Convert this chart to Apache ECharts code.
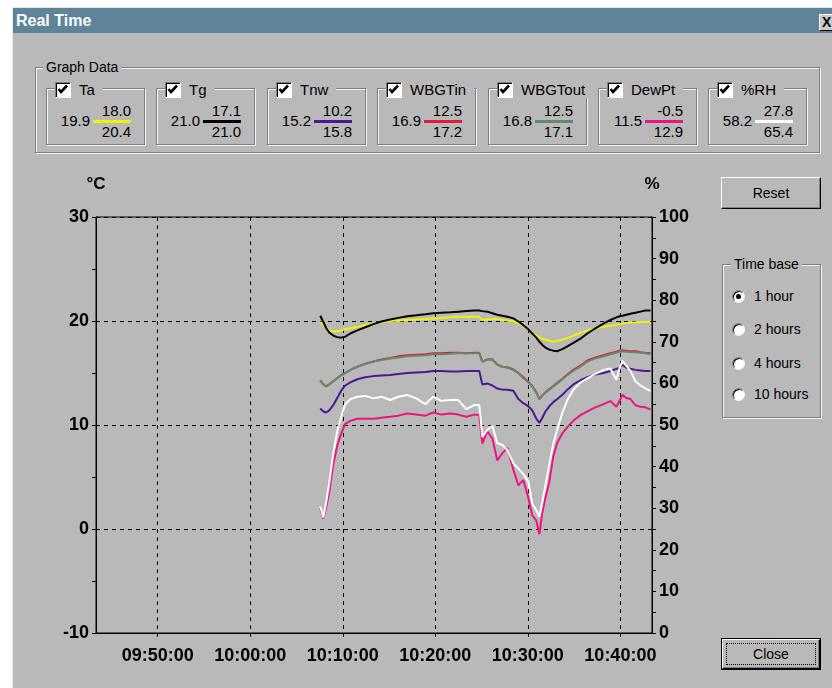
<!DOCTYPE html>
<html><head><meta charset="utf-8">
<script src="https://cdn.jsdelivr.net/npm/echarts@6/dist/echarts.min.js"></script>
<style>
html,body{margin:0;padding:0;width:832px;height:688px;overflow:hidden;background:#fff;font-family:"Liberation Sans",Arial,sans-serif;color:#000;}
.abs{position:absolute;}
#win{left:12px;top:7px;width:830px;height:690px;background:#b9b9b9;border-left:1px solid #e6e6e6;border-top:1px solid #e6e6e6;box-sizing:border-box;}
#title{left:13px;top:8px;width:819px;height:25px;background:#5f8499;color:#fff;font-weight:bold;font-size:16px;line-height:25px;padding-left:3px;box-sizing:border-box;}
#xbtn{left:819px;top:14px;width:18px;height:17px;background:#c8c8c8;border:1px solid;border-color:#fff #000 #000 #fff;box-sizing:border-box;font-weight:bold;font-size:14px;line-height:15px;padding-left:2px;}
.grp{position:absolute;border:1px solid #808080;box-shadow:1px 1px 0 #f2f2f2, inset 1px 1px 0 #f2f2f2;box-sizing:border-box;}
.lg{position:absolute;background:#b9b9b9;font-size:14px;line-height:16px;height:16px;white-space:nowrap;}
.cb{display:inline-block;vertical-align:top;width:16px;height:16px;box-sizing:border-box;background:#fff;border:1px solid;border-color:#808080 #fff #fff #808080;box-shadow:inset 1px 1px 0 #000;}
.cb svg{display:block;}
.txt{position:absolute;font-size:15px;line-height:18px;height:18px;white-space:nowrap;}
.btn{position:absolute;box-sizing:border-box;background:#b9b9b9;border:1px solid;border-color:#fff #000 #000 #fff;box-shadow:inset -1px -1px 0 #808080;text-align:center;font-size:14px;}
.rb{position:absolute;width:13px;height:13px;box-sizing:border-box;border-radius:50%;background:#fff;border:1px solid;border-color:#808080 #f4f4f4 #f4f4f4 #808080;box-shadow:inset 1px 1px 0 #000;}
.rb.on::after{content:"";position:absolute;left:3px;top:3px;width:5px;height:5px;border-radius:50%;background:#000;}
#chart{position:absolute;left:0;top:160px;width:715px;height:528px;}
</style>
</head><body>
<div id="win" class="abs"></div>
<div id="title" class="abs">Real Time</div>
<div id="xbtn" class="abs">X</div>
<div class="grp" style="left:35px;top:67px;width:785px;height:86px;"></div>
<div class="lg" style="left:43px;top:59px;padding:0 3px;">Graph Data</div>
<div id="boxes"></div>

<div class="btn" style="left:721px;top:177px;width:100px;height:32px;line-height:30px;">Reset</div>
<div class="grp" style="left:722px;top:264px;width:99px;height:154px;"></div>
<div class="lg" style="left:731px;top:256px;padding:0 3px;">Time base</div>
<div class="rb on" style="left:732px;top:290px;"></div><div class="txt" style="left:754px;top:287px;font-size:14px;">1 hour</div>
<div class="rb" style="left:732px;top:323px;"></div><div class="txt" style="left:754px;top:320px;font-size:14px;">2 hours</div>
<div class="rb" style="left:732px;top:357px;"></div><div class="txt" style="left:754px;top:354px;font-size:14px;">4 hours</div>
<div class="rb" style="left:732px;top:388px;"></div><div class="txt" style="left:754px;top:385px;font-size:14px;">10 hours</div>
<div class="abs" style="left:721px;top:638px;width:100px;height:32px;box-sizing:border-box;border:1px solid #000;background:#b9b9b9;">
  <div style="position:absolute;left:0;top:0;right:0;bottom:0;border:1px solid;border-color:#fff #000 #000 #fff;box-shadow:inset -1px -1px 0 #808080;"></div>
  <div style="position:absolute;left:4px;top:4px;right:4px;bottom:4px;border:1px dotted #000;text-align:center;font-size:14px;line-height:20px;">Close</div>
</div>
<div id="chart"></div>
<script>
// ---- Graph Data panel ----
const sensorNames = ['Ta', 'Tg', 'Tnw', 'WBGTin', 'WBGTout', 'DewPt', '%RH'];
const currentVals = ['19.9', '21.0', '15.2', '16.9', '16.8', '11.5', '58.2'];
const minVals = ['18.0', '17.1', '10.2', '12.5', '12.5', '-0.5', '27.8'];
const maxVals = ['20.4', '21.0', '15.8', '17.2', '17.1', '12.9', '65.4'];
const seriesColors = ['#f2f200', '#000000', '#4a1896', '#e8183c', '#5e8c6c', '#ee1480', '#ffffff'];

// ---- Time base (x) ----
const times = [
 '10:07:34','10:07:54','10:08:13','10:08:32','10:08:58','10:09:24','10:09:50','10:10:16','10:10:49','10:11:34',
 '10:12:26','10:13:18','10:14:10','10:15:08','10:16:00','10:16:58','10:17:57','10:18:55','10:19:47','10:20:39',
 '10:21:37','10:22:29','10:23:21','10:24:13','10:24:45','10:25:05','10:25:37','10:26:10','10:26:42','10:27:15',
 '10:27:47','10:28:26','10:28:58','10:29:31','10:30:03','10:30:29','10:30:55','10:31:15','10:31:34','10:31:54',
 '10:32:19','10:32:45','10:33:11','10:33:44','10:34:16','10:34:55','10:35:41','10:36:26','10:37:18','10:38:10',
 '10:38:55','10:39:34','10:39:54','10:40:13','10:40:39','10:41:05','10:41:37','10:42:10','10:42:42','10:43:15'];
const xTickLabels = ['09:50:00', '10:00:00', '10:10:00', '10:20:00', '10:30:00', '10:40:00'];
const xStart = '09:43:20';
const xEnd = '10:43:25';

// ---- Series values ----
const Ta = [
 19.9,19.6,19.3,19.1,19.0,19.0,19.1,19.2,19.3,19.45,
 19.6,19.75,19.9,20.0,20.05,20.1,20.15,20.2,20.25,20.3,
 20.35,20.4,20.4,20.4,20.4,20.1,20.15,20.2,20.2,20.1,
 20.05,20.0,19.8,19.5,19.2,18.9,18.6,18.4,18.3,18.2,
 18.1,18.0,18.1,18.2,18.35,18.6,18.85,19.1,19.3,19.45,
 19.55,19.65,19.7,19.75,19.8,19.85,19.85,19.9,19.9,19.9];
const Tg = [
 20.5,19.9,19.3,18.9,18.6,18.45,18.4,18.5,18.8,19.1,
 19.4,19.7,19.95,20.15,20.3,20.45,20.55,20.65,20.75,20.8,
 20.85,20.9,20.95,21.0,21.0,20.95,20.9,20.75,20.6,20.5,
 20.4,20.25,19.95,19.6,19.2,18.8,18.4,18.0,17.7,17.45,
 17.25,17.15,17.1,17.3,17.55,17.9,18.3,18.8,19.3,19.75,
 20.1,20.35,20.45,20.5,20.6,20.7,20.8,20.9,21.0,21.0];
const Tnw = [
 11.6,11.3,11.2,11.4,11.9,12.6,13.3,13.8,14.1,14.4,
 14.6,14.7,14.75,14.8,14.9,15.0,15.05,15.1,15.2,15.2,
 15.15,15.15,15.2,15.2,15.2,13.9,14.0,13.8,13.5,13.4,
 13.4,13.3,12.5,12.1,11.8,11.4,10.6,10.2,10.7,11.3,
 11.8,12.2,12.5,12.9,13.4,13.9,14.3,14.6,14.85,15.0,
 15.2,15.4,15.45,15.8,15.5,15.4,15.3,15.25,15.2,15.2];
const WBGTin = [
 14.3,13.9,13.7,13.9,14.2,14.5,14.8,15.0,15.3,15.6,
 15.9,16.1,16.3,16.45,16.6,16.7,16.75,16.8,16.9,16.9,
 16.95,16.95,16.9,16.95,16.95,16.1,16.3,16.3,15.8,15.6,
 15.55,15.35,15.0,14.6,14.15,13.75,13.15,12.5,12.85,13.15,
 13.45,13.75,14.05,14.45,14.85,15.3,15.7,16.2,16.5,16.7,
 16.9,17.05,17.15,17.2,17.15,17.1,17.1,17.0,16.95,16.9];
const WBGTout = [
 14.3,13.9,13.7,13.9,14.2,14.5,14.8,15.0,15.3,15.6,
 15.85,16.1,16.25,16.4,16.5,16.6,16.65,16.7,16.8,16.8,
 16.85,16.9,16.9,16.9,16.9,16.1,16.3,16.3,15.8,15.6,
 15.5,15.3,15.0,14.5,14.1,13.7,13.1,12.5,12.8,13.1,
 13.4,13.7,14.0,14.4,14.8,15.2,15.6,16.1,16.4,16.6,
 16.8,16.95,17.05,17.1,17.05,17.0,17.0,16.95,16.9,16.8];
const DewPt = [
 2.0,1.0,2.1,3.5,6.2,8.0,9.2,10.1,10.4,10.6,
 10.6,10.6,10.7,10.8,10.9,11.1,11.0,10.9,11.2,11.0,
 11.1,11.0,10.8,11.0,10.95,8.2,9.4,8.7,6.6,7.3,
 7.8,5.7,4.2,4.7,3.0,1.3,0.8,-0.5,1.6,3.0,
 4.5,7.0,8.3,9.2,9.8,10.4,10.95,11.3,11.7,12.0,
 12.3,11.75,12.3,12.9,12.6,12.5,11.9,11.75,11.7,11.5];
const RH = [
 30.4,27.8,31.5,36.0,43.0,48.5,52.0,55.0,56.2,56.8,
 57.0,56.4,56.8,56.0,56.8,57.2,56.4,55.0,56.8,55.8,
 56.0,56.0,53.8,54.8,54.8,47.2,48.8,49.8,45.6,45.2,
 44.0,40.8,39.5,38.2,36.4,31.0,29.5,28.0,31.5,35.5,
 40.5,45.5,49.0,53.0,56.0,58.5,60.2,61.2,62.3,63.2,
 63.6,60.9,63.5,65.4,64.2,63.0,60.5,59.5,58.8,58.2];

// ---- build the Graph Data boxes ----
(function(){
  const host = document.getElementById('boxes');
  let html = '';
  const check = '<svg width="14" height="14" viewBox="0 0 14 14"><polyline points="2.5,6 5,9 11,2.5" fill="none" stroke="#000" stroke-width="2.6"/></svg>';
  sensorNames.forEach((n, i) => {
    const L = Math.round(46 + i * 110.4);
    html += '<div class="grp" style="left:' + L + 'px;top:88px;width:99px;height:57px;"></div>';
    html += '<div class="lg" style="left:' + (L + 9) + 'px;top:82px;padding-right:8px;"><span class="cb">' + check + '</span><span style="margin-left:8px;font-size:15px;">' + n + '</span></div>';
    html += '<div class="txt" style="left:' + (L + 4) + 'px;width:40px;text-align:right;top:112px;">' + currentVals[i] + '</div>';
    html += '<div class="abs" style="left:' + (L + 47) + 'px;top:120px;width:38px;height:3px;background:' + seriesColors[i] + ';"></div>';
    html += '<div class="txt" style="left:' + (L + 45) + 'px;width:40px;text-align:right;top:102px;">' + minVals[i] + '</div>';
    html += '<div class="txt" style="left:' + (L + 45) + 'px;width:40px;text-align:right;top:123px;">' + maxVals[i] + '</div>';
  });
  host.innerHTML = html;
})();

// ---- chart ----
function toSec(s){ const p = s.split(':').map(Number); return p[0]*3600 + p[1]*60 + p[2]; }
function pad(n){ return (n < 10 ? '0' : '') + n; }
function fmt(v){ v = Math.round(v); return pad(Math.floor(v/3600)) + ':' + pad(Math.floor(v/60)%60) + ':' + pad(v%60); }
const xs = times.map(toSec);
const xTicks = xTickLabels.map(toSec);
const pairs = arr => arr.map((v, i) => [xs[i], v]);

const FONT = '"Liberation Sans", Arial, sans-serif';
const lblStyle = { color: '#000', fontWeight: 'bold', fontSize: 18, fontFamily: FONT };
const chart = echarts.init(document.getElementById('chart'), null, { renderer: 'canvas' });
const mkSeries = (name, data, color, yIdx) => ({
  name, type: 'line', data: pairs(data), yAxisIndex: yIdx, showSymbol: false, symbol: 'none',
  lineStyle: { color, width: 2 }, itemStyle: { color }, animation: false, z: 3
});
chart.setOption({
  backgroundColor: 'transparent',
  animation: false,
  grid: { left: 96, top: 57, width: 556, height: 416, show: true, borderColor: '#000', borderWidth: 1, backgroundColor: 'transparent' },
  xAxis: {
    type: 'value', min: toSec(xStart), max: toSec(xEnd),
    axisLine: { show: true, onZero: false, lineStyle: { color: '#000', width: 1 } },
    axisTick: { show: true, customValues: xTicks, length: 4, lineStyle: { color: '#000' } },
    axisLabel: Object.assign({ customValues: xTicks, formatter: fmt, margin: 14 }, lblStyle),
    splitLine: { show: true, lineStyle: { color: '#000', type: [4, 4], width: 1 } }
  },
  yAxis: [{
    type: 'value', min: -10, max: 30, interval: 10, position: 'left',
    name: '°C', nameLocation: 'end', nameGap: 24,
    nameTextStyle: { color: '#000', fontWeight: 'bold', fontSize: 17, fontFamily: FONT },
    axisLine: { show: true, onZero: false, lineStyle: { color: '#000', width: 1 } },
    axisTick: { show: true, length: 4, lineStyle: { color: '#000' } },
    minorTick: { show: true, splitNumber: 2, length: 4, lineStyle: { color: '#000' } },
    axisLabel: Object.assign({ margin: 7 }, lblStyle),
    splitLine: { show: true, lineStyle: { color: '#000', type: [4, 4], width: 1 } }
  }, {
    type: 'value', min: 0, max: 100, interval: 10, position: 'right',
    name: '%', nameLocation: 'end', nameGap: 24,
    nameTextStyle: { color: '#000', fontWeight: 'bold', fontSize: 17, fontFamily: FONT },
    axisLine: { show: true, onZero: false, lineStyle: { color: '#000', width: 1 } },
    axisTick: { show: true, length: 4, lineStyle: { color: '#000' } },
    minorTick: { show: true, splitNumber: 2, length: 4, lineStyle: { color: '#000' } },
    axisLabel: Object.assign({ margin: 7 }, lblStyle),
    splitLine: { show: false }
  }],
  series: [
    mkSeries('Ta', Ta, seriesColors[0], 0),
    mkSeries('Tg', Tg, seriesColors[1], 0),
    mkSeries('Tnw', Tnw, seriesColors[2], 0),
    mkSeries('WBGTin', WBGTin, seriesColors[3], 0),
    mkSeries('WBGTout', WBGTout, seriesColors[4], 0),
    mkSeries('DewPt', DewPt, seriesColors[5], 0),
    mkSeries('%RH', RH, seriesColors[6], 1)
  ]
});
</script>
</body></html>
